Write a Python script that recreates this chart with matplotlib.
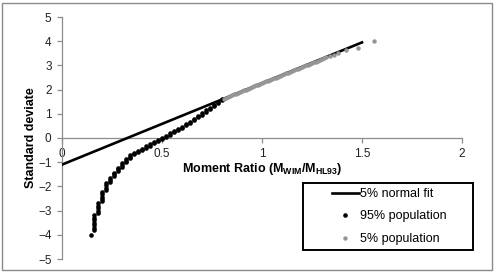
import matplotlib
matplotlib.use('Agg')
import matplotlib.pyplot as plt
from matplotlib.patches import Rectangle

plt.rcParams['font.family'] = ['Liberation Sans', 'DejaVu Sans']
plt.rcParams['mathtext.fontset'] = 'custom'
plt.rcParams['mathtext.rm'] = 'Liberation Sans'
plt.rcParams['mathtext.bf'] = 'Liberation Sans:bold'

# 5% normal fit line
fit_x = [0.0, 1.5]
fit_y = [-1.1, 3.95]

# 95% population (black)
pop95_x = [0.145,
           0.16, 0.16, 0.16, 0.16, 0.16, 0.16, 0.16,
           0.18, 0.18, 0.18, 0.18, 0.18,
           0.20, 0.20, 0.20, 0.20, 0.20,
           0.22, 0.22, 0.22, 0.22,
           0.24, 0.24, 0.24,
           0.26, 0.26, 0.26,
           0.28, 0.28, 0.28,
           0.30, 0.30, 0.30,
           0.32, 0.32, 0.32,
           0.34, 0.34, 0.34,
           0.36, 0.36, 0.38, 0.38, 0.40, 0.40, 0.42, 0.42,
           0.44, 0.44, 0.46, 0.46, 0.48, 0.48, 0.50, 0.50,
           0.52, 0.52, 0.54, 0.54, 0.56, 0.56, 0.58, 0.58,
           0.60, 0.60, 0.62, 0.62, 0.64, 0.64, 0.66, 0.66,
           0.68, 0.68, 0.70, 0.70, 0.72, 0.72, 0.74, 0.74,
           0.76, 0.76, 0.78, 0.78, 0.80, 0.80]
pop95_y = [-4.00,
           -3.80, -3.70, -3.60, -3.50, -3.40, -3.30, -3.20,
           -3.10, -3.00, -2.90, -2.80, -2.70,
           -2.62, -2.52, -2.42, -2.32, -2.22,
           -2.14, -2.05, -1.96, -1.87,
           -1.80, -1.72, -1.64,
           -1.58, -1.50, -1.43,
           -1.38, -1.30, -1.23,
           -1.18, -1.11, -1.05,
           -1.00, -0.94, -0.88,
           -0.84, -0.78, -0.72,
           -0.68, -0.62, -0.58, -0.53, -0.49, -0.44, -0.40, -0.35,
           -0.31, -0.26, -0.22, -0.17, -0.13, -0.08, -0.04, 0.01,
           0.05, 0.10, 0.14, 0.19, 0.23, 0.28, 0.32, 0.37,
           0.42, 0.47, 0.52, 0.57, 0.62, 0.68, 0.73, 0.79,
           0.85, 0.91, 0.96, 1.02, 1.08, 1.14, 1.20, 1.26,
           1.32, 1.38, 1.44, 1.50, 1.56, 1.62]

# 5% population (grey)
pop5_x = [0.81, 0.82, 0.83, 0.84, 0.85, 0.86, 0.87, 0.88, 0.89, 0.90,
          0.91, 0.92, 0.93, 0.94, 0.95, 0.96, 0.97, 0.98, 0.99, 1.00,
          1.01, 1.02, 1.03, 1.04, 1.05, 1.06, 1.07, 1.08, 1.09, 1.10,
          1.11, 1.12, 1.13, 1.14, 1.15, 1.16, 1.17, 1.18, 1.19, 1.20,
          1.21, 1.22, 1.23, 1.24, 1.25, 1.26, 1.27, 1.28, 1.29, 1.30,
          1.31, 1.32, 1.34, 1.36, 1.38, 1.42, 1.48, 1.56]
pop5_y = [1.63, 1.66, 1.70, 1.73, 1.76, 1.80, 1.83, 1.87, 1.90, 1.93,
          1.97, 2.00, 2.03, 2.07, 2.10, 2.14, 2.17, 2.20, 2.24, 2.27,
          2.30, 2.34, 2.37, 2.40, 2.44, 2.47, 2.50, 2.54, 2.57, 2.61,
          2.64, 2.67, 2.70, 2.74, 2.77, 2.80, 2.84, 2.87, 2.90, 2.93,
          2.97, 3.00, 3.03, 3.06, 3.10, 3.13, 3.16, 3.19, 3.23, 3.26,
          3.29, 3.33, 3.39, 3.43, 3.51, 3.64, 3.73, 4.02]

fig = plt.figure(figsize=(4.96, 2.72), dpi=100)
ax = fig.add_axes([62 / 496, 1 - 259 / 272, 400 / 496, 242 / 272])

ax.plot(fit_x, fit_y, color='black', lw=1.9, label='5% normal fit', zorder=3)
ax.plot(pop95_x, pop95_y, 'o', color='black', ms=3.3, mew=0, label='95% population', zorder=4)
ax.plot(pop5_x, pop5_y, 'o', color='#959595', ms=3.2, mew=0, label='5% population', zorder=5)

ax.set_xlim(0, 2)
ax.set_ylim(-5, 5)
ax.set_xticks([0, 0.5, 1, 1.5, 2])
ax.set_xticklabels(['0', '0.5', '1', '1.5', '2'])
ax.set_yticks(range(-5, 6))

for s in ('top', 'right'):
    ax.spines[s].set_visible(False)
ax.spines['bottom'].set_position(('data', 0))
for s in ('left', 'bottom'):
    ax.spines[s].set_color('#8c8c8c')
    ax.spines[s].set_linewidth(0.9)
ax.tick_params(axis='both', direction='out', length=3.5, width=0.9, color='#8c8c8c',
               labelsize=8.5, labelcolor='#222222')
ax.tick_params(axis='y', pad=4)
ax.tick_params(axis='x', pad=4)

ax.set_ylabel('Standard deviate', fontsize=9, fontweight='bold', labelpad=1)
ax.text(1.0, -0.95, r'Moment Ratio ($\mathbf{M_{WIM}/M_{HL93}}$)', fontsize=9,
        fontweight='bold', ha='center', va='top', transform=ax.transData)

# legend inside a hand drawn black frame
leg = fig.legend(loc='center left', bbox_to_anchor=(326 / 496, 1 - 216.5 / 272),
                 fontsize=9, frameon=False, borderpad=0, labelspacing=0.85,
                 handlelength=2.1, handletextpad=0.1)
fig.patches.append(Rectangle((303 / 496, 1 - 250 / 272), 170 / 496, 67 / 272,
                             transform=fig.transFigure, fill=False, edgecolor='black', lw=1.4))

fig.patches.append(Rectangle((2 / 496, 2 / 272), 490 / 496, 267 / 272, transform=fig.transFigure,
                             fill=False, edgecolor='#8a8a8a', lw=1.0))

fig.savefig('out.png', dpi=100)
